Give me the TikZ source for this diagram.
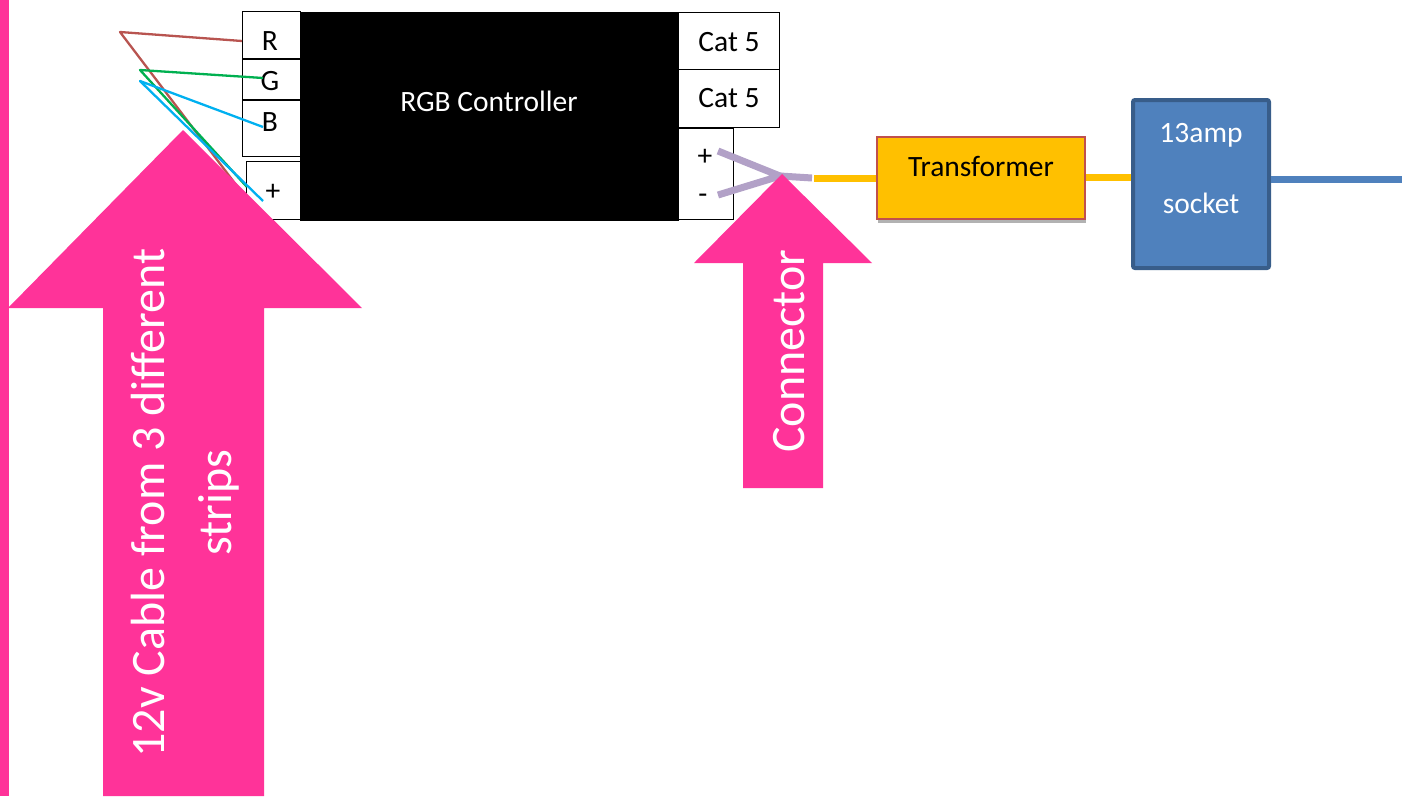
\documentclass[tikz,border=0pt]{standalone}
\usepackage{fontspec}
\setmainfont{Carlito}
\usetikzlibrary{shadows}
\definecolor{pinkx}{HTML}{FF3399}
\definecolor{lilacx}{HTML}{B2A1C7}
\definecolor{amberx}{HTML}{FFC000}
\definecolor{bluex}{HTML}{4F81BD}
\definecolor{bluedk}{HTML}{385D8A}
\definecolor{redx}{HTML}{C0504D}
\definecolor{redw}{HTML}{B85450}
\definecolor{greenx}{HTML}{00B050}
\definecolor{cyanx}{HTML}{00B0F0}
\tikzset{
  x=1pt,y=-1pt,
  lab/.style={font=\fontsize{29.5}{29.5}\selectfont,inner sep=0pt},
  termbox/.style={draw=black,line width=1.3pt,fill=white,inner sep=0pt,anchor=north west},
  wire/.style={line width=2.3pt,line join=round},
  fatwire/.style={line width=7pt},
  pinkarrow/.style={fill=pinkx,draw=none},
  bigtext/.style={text=white,rotate=90,align=center,inner sep=0pt},
}
\newcommand{\boxat}[6]{\node[termbox,minimum width=#3pt,minimum height=#4pt] (#5) at (#1,#2) {};}
\begin{document}
\begin{tikzpicture}
\useasboundingbox (0,0) rectangle (1410,796);
\fill[pinkx] (0,0) rectangle (9,796);
% terminals
\boxat{242}{11}{58}{47}{r}{}
\boxat{242}{59}{58}{40}{g}{}
\boxat{242}{100}{58}{56}{b}{}
\boxat{246}{161}{54}{58}{plusl}{}
\boxat{678}{12}{101}{57}{cata}{}
\boxat{678}{69}{101}{58}{catb}{}
\boxat{678}{128}{55}{91}{psu}{}
\node[fill=black,draw=none,inner sep=0pt,anchor=north west,minimum width=379pt,minimum height=209pt] (ctrl) at (300,12) {};
\node[lab,text=white] at (489,101) {RGB Controller};
\node[lab] at (270,41) {R};
\node[lab] at (270,81) {G};
\node[lab] at (270,122) {B};
\node[lab] at (273,192) {+};
\node[lab] at (729,42) {Cat 5};
\node[lab] at (729,98) {Cat 5};
\node[lab] at (705,157) {+};
\node[lab] at (703,199) {-};
% wires
\coordinate (rbend) at (120,32);
\coordinate (gbend) at (140,70);
\coordinate (bbend) at (140,81);
\coordinate (gend) at (263,78);
\coordinate (bend) at (263,127);
\coordinate (tip) at (263,201);
\draw[wire,draw=redw] (r.west|-0,41) -- (rbend) -- (240,190);
\draw[wire,draw=greenx] (gend) -- (gbend) -- (247,187);
\draw[wire,draw=cyanx] (bend) -- (bbend) -- (tip);
% left arrow
\fill[pinkarrow] (183,130) -- (362,308) -- (264,308) -- (264,796) -- (103,796) -- (103,308) -- (8,308) -- cycle;
\node[bigtext,font=\fontsize{48}{67}\selectfont] at (185,503) {12v Cable from 3 different\\strips};
% power side
\node[draw=redx,line width=2pt,fill=amberx,inner sep=0pt,anchor=north west,minimum width=208pt,minimum height=82pt,
  drop shadow={shadow xshift=1pt,shadow yshift=-4pt,opacity=.3,fill=black}] (trans) at (876,136) {};
\node[lab] at (981,166) {Transformer};
\node[draw=bluedk,line width=4pt,fill=bluex,rounded corners=2pt,inner sep=0pt,anchor=north west,minimum width=136pt,minimum height=168pt] (sock) at (1131,98) {};
\node[lab,text=white] at (1201,135) {13amp};
\node[lab,text=white] at (1201,203) {socket};
\coordinate (ya) at (718,151);
\coordinate (yb) at (718,195);
\coordinate (yc) at (780,176);
\coordinate (yd) at (812,178);
\coordinate (ye) at (814,178);
\coordinate (feed) at (1402,179);
\draw[fatwire,draw=lilacx,line join=miter] (ya) -- (yc) -- (yb);
\draw[fatwire,draw=lilacx] (yc) -- (yd);
\draw[line width=7pt,draw=amberx] (ye) -- (trans.west|-ye);
\draw[line width=7pt,draw=amberx] (trans.east|-0,177) -- (sock.west|-0,177);
\draw[line width=7pt,draw=bluex] (sock.east|-feed) -- (feed);
% connector arrow
\fill[pinkarrow] (782,174) -- (872,263) -- (823,263) -- (823,488) -- (743,488) -- (743,263) -- (694,263) -- cycle;
\node[bigtext,font=\fontsize{48}{48}\selectfont] at (789,351) {Connector};
\end{tikzpicture}
\end{document}
